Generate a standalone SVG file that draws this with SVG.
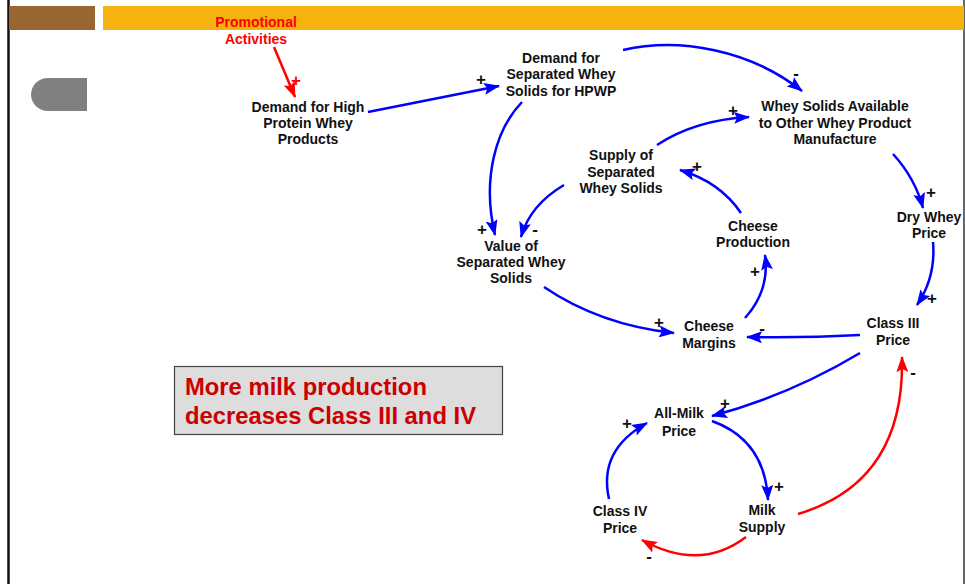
<svg xmlns="http://www.w3.org/2000/svg" width="965" height="584" viewBox="0 0 965 584">
  <style>
    .node text { font-family: "Liberation Sans", Arial, sans-serif; font-weight: bold; font-size: 14px; fill: #111; text-anchor: middle; }
    .node text.red { fill: #ff0000; }
    .pol { font-family: "Liberation Sans", Arial, sans-serif; font-weight: bold; font-size: 17px; fill: #111; text-anchor: middle; }
    .pol.red { fill: #ff0000; }
    .link { fill: none; stroke: #0000ff; stroke-width: 2.5; marker-end: url(#headBlue); }
    .link.red { stroke: #ff0000; marker-end: url(#headRed); }
    .note { font-family: "Liberation Sans", Arial, sans-serif; font-weight: bold; font-size: 23.8px; fill: #cc0000; }
  </style>
  <defs>
    <marker id="headBlue" markerUnits="userSpaceOnUse" markerWidth="16" markerHeight="12" refX="15" refY="6" orient="auto">
      <path d="M0,0 L16,6 L0,12 L3,6 z" fill="#0000ff"/>
    </marker>
    <marker id="headRed" markerUnits="userSpaceOnUse" markerWidth="16" markerHeight="12" refX="15" refY="6" orient="auto">
      <path d="M0,0 L16,6 L0,12 L3,6 z" fill="#ff0000"/>
    </marker>
  </defs>

  <!-- page frame and header bars -->
  <rect width="965" height="584" fill="#ffffff"/>
  <line x1="8.5" y1="0" x2="8.5" y2="584" stroke="#111" stroke-width="2.5"/>
  <line x1="964" y1="0" x2="964" y2="584" stroke="#333" stroke-width="1.5"/>
  <rect x="9" y="6" width="86" height="24" fill="#996633"/>
  <rect x="103" y="6" width="861" height="24" fill="#f6b20e"/>
  <path d="M87,78 L48,78 A17,16.5 0 0 0 48,111 L87,111 z" fill="#808080"/>

  <!-- note box -->
  <g id="note">
    <rect x="174.5" y="366.5" width="328" height="68" fill="#dddddd" stroke="#444" stroke-width="1.2"/>
    <text class="note" x="185" y="395">More milk production</text>
    <text class="note" x="185" y="424">decreases Class III and IV</text>
  </g>

  <!-- connectors -->
  <g id="connectors">
    <path class="link red" d="M274,47 L295,97"/>
    <path class="link" d="M368,112 L499,86"/>
    <path class="link" d="M623,50 C680,37 750,50 802,91"/>
    <path class="link" d="M657,145 Q695,120 749,117"/>
    <path class="link" d="M893,154 Q915,178 923,208"/>
    <path class="link" d="M933,242 Q936,277 917,305"/>
    <path class="link" d="M860,335 Q805,338 747,337"/>
    <path class="link" d="M544,287 Q600,325 674,333"/>
    <path class="link" d="M745,318 Q770,290 765,255"/>
    <path class="link" d="M741,213 Q720,182 680,170"/>
    <path class="link" d="M564,185 Q530,205 521,237"/>
    <path class="link" d="M522,102 C495,130 482,180 495,235"/>
    <path class="link" d="M860,353 Q790,395 712,416"/>
    <path class="link" d="M712,421 Q765,440 768,500"/>
    <path class="link" d="M609,499 Q598,450 647,423"/>
    <path class="link red" d="M746,537 Q700,572 642,540"/>
    <path class="link red" d="M798,514 Q905,482 902,357"/>

    <!-- polarity marks -->
    <text class="pol red" x="296" y="86">+</text>
    <text class="pol" x="481" y="85">+</text>
    <text class="pol" x="796" y="79">-</text>
    <text class="pol" x="733" y="116">+</text>
    <text class="pol" x="931" y="198">+</text>
    <text class="pol" x="932" y="304">+</text>
    <text class="pol" x="762" y="334">-</text>
    <text class="pol" x="659" y="328">+</text>
    <text class="pol" x="755" y="277">+</text>
    <text class="pol" x="697" y="172">+</text>
    <text class="pol" x="535" y="235">-</text>
    <text class="pol" x="482" y="235">+</text>
    <text class="pol" x="725" y="409">+</text>
    <text class="pol" x="779" y="492">+</text>
    <text class="pol" x="627" y="429">+</text>
    <text class="pol" x="649" y="562">-</text>
    <text class="pol" x="913" y="378">-</text>
  </g>

  <!-- variables -->
  <g id="promotional-activities" class="node">
    <text class="red" x="256" y="27">Promotional</text>
    <text class="red" x="256" y="44">Activities</text>
  </g>
  <g id="demand-hpwp" class="node">
    <text x="308" y="112">Demand for High</text>
    <text x="308" y="128">Protein Whey</text>
    <text x="308" y="144">Products</text>
  </g>
  <g id="demand-separated" class="node">
    <text x="561" y="63">Demand for</text>
    <text x="561" y="79">Separated Whey</text>
    <text x="561" y="96">Solids for HPWP</text>
  </g>
  <g id="whey-available" class="node">
    <text x="835" y="111">Whey Solids Available</text>
    <text x="835" y="128">to Other Whey Product</text>
    <text x="835" y="144">Manufacture</text>
  </g>
  <g id="supply-separated" class="node">
    <text x="621" y="160">Supply of</text>
    <text x="621" y="177">Separated</text>
    <text x="621" y="193">Whey Solids</text>
  </g>
  <g id="value-separated" class="node">
    <text x="511" y="251">Value of</text>
    <text x="511" y="267">Separated Whey</text>
    <text x="511" y="283">Solids</text>
  </g>
  <g id="cheese-production" class="node">
    <text x="753" y="231">Cheese</text>
    <text x="753" y="247">Production</text>
  </g>
  <g id="dry-whey-price" class="node">
    <text x="929" y="222">Dry Whey</text>
    <text x="929" y="238">Price</text>
  </g>
  <g id="class-iii-price" class="node">
    <text x="893" y="328">Class III</text>
    <text x="893" y="345">Price</text>
  </g>
  <g id="cheese-margins" class="node">
    <text x="709" y="331">Cheese</text>
    <text x="709" y="348">Margins</text>
  </g>
  <g id="all-milk-price" class="node">
    <text x="679" y="418">All-Milk</text>
    <text x="679" y="436">Price</text>
  </g>
  <g id="class-iv-price" class="node">
    <text x="620" y="516">Class IV</text>
    <text x="620" y="533">Price</text>
  </g>
  <g id="milk-supply" class="node">
    <text x="762" y="515">Milk</text>
    <text x="762" y="532">Supply</text>
  </g>
</svg>
